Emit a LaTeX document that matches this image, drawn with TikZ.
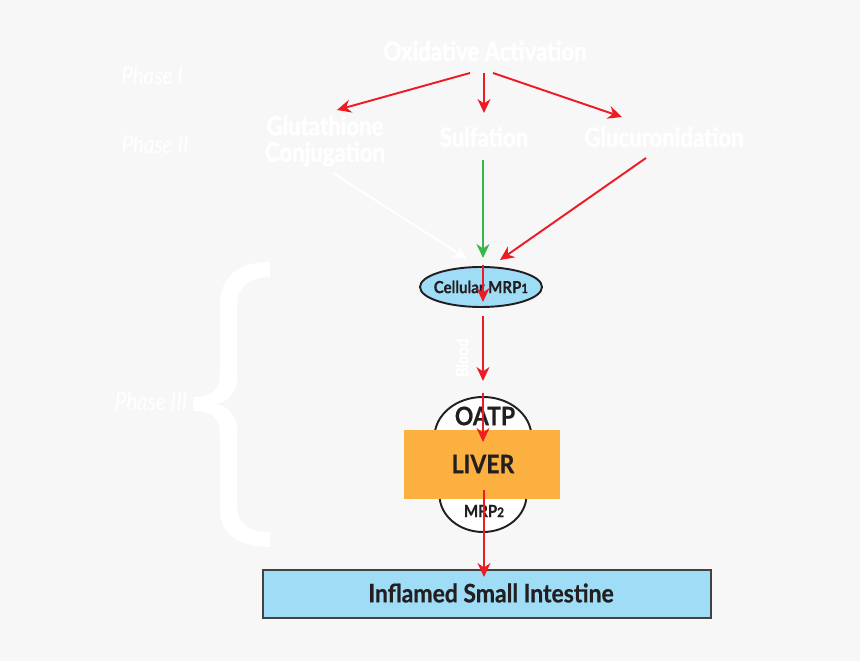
\documentclass[tikz,border=0pt]{standalone}
\usepackage{fontspec}
\setmainfont{Lato}
\newfontfamily\condfont{Lato}[FakeStretch=0.84, BoldFont={* Bold}, BoldFeatures={FakeBold=1.6}]
\newfontfamily\bodyfont{Lato}[FakeStretch=0.9, BoldFont={* Bold}, BoldFeatures={FakeBold=0.6}]
\usetikzlibrary{shapes.geometric, positioning}
\usetikzlibrary{arrows.meta}
\tikzset{>={Stealth[length=2.8mm,width=2.6mm,inset=0.9mm]}}
\definecolor{bgrey}{HTML}{F7F7F7}
\definecolor{pathred}{HTML}{ED1C24}
\definecolor{pathgreen}{HTML}{39B54A}
\definecolor{cellblue}{HTML}{9FDCF6}
\definecolor{liverorange}{HTML}{FBB040}
\definecolor{inkdark}{HTML}{231F20}

\begin{document}
\begin{tikzpicture}[x=0.02cm, y=-0.02cm]
% Define styles
\tikzset{
  heading/.style = {text=white, font=\condfont\bfseries\fontsize{15}{16}\selectfont, inner sep=0pt, align=center},
  phaselabel/.style = {text=white, font=\condfont\itshape\fontsize{14}{14}\selectfont, inner sep=0pt},
  bodytext/.style = {text=inkdark, font=\bodyfont\bfseries\fontsize{14.5}{14.5}\selectfont, inner sep=0pt},
  smalltext/.style = {text=inkdark, font=\bodyfont\bfseries\fontsize{9.5}{9.5}\selectfont, inner sep=0pt},
  transporter/.style = {ellipse, draw=inkdark, line width=1.1pt, fill=white, inner sep=0pt},
  redarrow/.style = {->, draw=pathred, line width=1.1pt},
  greenarrow/.style = {->, draw=pathgreen, line width=1.1pt},
  whitearrow/.style = {->, draw=white, line width=1.1pt}
}
\newcommand{\lowdigit}[1]{{\fontsize{7.5}{7.5}\selectfont #1}}
% Background and frame
\fill[bgrey] (0,0) rectangle (860,661);
\useasboundingbox (0,0) rectangle (860,661);
% Phase labels
\node[phaselabel] (phase1) at (152,76) {Phase I};
\node[phaselabel] (phase2) at (155,145) {Phase II};
\node[phaselabel] (phase3) at (151,402) {Phase III};
% Brace of phase III
\fill[white] (270,262) .. controls (240,262) and (220,275) .. (220,305)
  -- (220,375) .. controls (220,392) and (210,397) .. (193,397)
  -- (193,411) .. controls (210,411) and (220,416) .. (220,433)
  -- (220,510) .. controls (220,535) and (240,547) .. (270,547)
  -- (270,532) .. controls (250,532) and (237,525) .. (237,505)
  -- (237,430) .. controls (237,415) and (228,406) .. (215,404)
  .. controls (228,402) and (237,393) .. (237,378)
  -- (237,305) .. controls (237,287) and (250,277) .. (270,277) -- cycle;
% Define nodes
\node[heading] (oxid) at (485,51) {Oxidative Activation};
\node[heading] (glut) at (325,141) {Glutathione\\[-1pt]Conjugation};
\node[heading] (sulf) at (484,137) {Sulfation};
\node[heading] (gluc) at (664,137) {Glucuronidation};
\node[transporter, fill=cellblue, minimum width=2.44cm, minimum height=0.8cm] (mrp1) at (481,287) {};
\node[smalltext] (mrp1text) at (481,287) {Cellular MRP\lowdigit{1}};
\node[text=white, font=\condfont\bfseries\fontsize{10}{10}\selectfont, rotate=90, inner sep=0pt] (blood) at (462,358) {Blood};
\node[transporter, minimum width=1.94cm, minimum height=1.6cm] (oatp) at (483,437) {};
\node[transporter, minimum width=1.74cm, minimum height=1.48cm] (mrp2) at (483,495) {};
\node[bodytext] (oatptext) at (485,416) {OATP};
\node[smalltext] (mrp2text) at (484,511) {MRP\lowdigit{2}};
\node[fill=liverorange, minimum width=3.12cm, minimum height=1.38cm, inner sep=0pt] (liver) at (482,464.5) {};
\node[bodytext] (livertext) at (483,464) {LIVER};
\node[draw=inkdark!85, line width=1.1pt, fill=cellblue, minimum width=8.96cm, minimum height=0.96cm, inner sep=0pt] (gut) at (487,594) {};
\node[bodytext] (guttext) at (491,593) {Inflamed Small Intestine};
% Ends of the connectors
\coordinate (oxidL) at (470,73);
\coordinate (oxidM) at (484,73);
\coordinate (oxidR) at (493,73);
\coordinate (glutIn) at (337,110);
\coordinate (sulfIn) at (484,113);
\coordinate (glucIn) at (622,117);
\coordinate (glutOut) at (333,173);
\coordinate (sulfOut) at (483,160);
\coordinate (glucOut) at (646,158);
\coordinate (mrp1InL) at (467,259);
\coordinate (mrp1InM) at (483,258);
\coordinate (mrp1InR) at (500,260);
\coordinate (mrp1Top) at (483,265);
\coordinate (mrp1Mid) at (483,302);
\coordinate (mrp1Out) at (483,316);
\coordinate (oatpIn) at (483,381);
\coordinate (oatpTop) at (483,393);
\coordinate (liverIn) at (483,442);
\coordinate (liverOut) at (484,490);
\coordinate (gutIn) at (484,577);
% Connect the nodes
\draw[redarrow] (oxidL) -- (glutIn);
\draw[redarrow] (oxidM) -- (sulfIn);
\draw[redarrow] (oxidR) -- (glucIn);
\draw[whitearrow] (glutOut) -- (mrp1InL);
\draw[greenarrow] (sulfOut) -- (mrp1InM);
\draw[redarrow] (glucOut) -- (mrp1InR);
\draw[redarrow] (mrp1Top) -- (mrp1Mid);
\draw[redarrow] (mrp1Out) -- (oatpIn);
\draw[redarrow] (oatpTop) -- (liverIn);
\draw[redarrow] (liverOut) -- (gutIn);
\end{tikzpicture}
\end{document}
